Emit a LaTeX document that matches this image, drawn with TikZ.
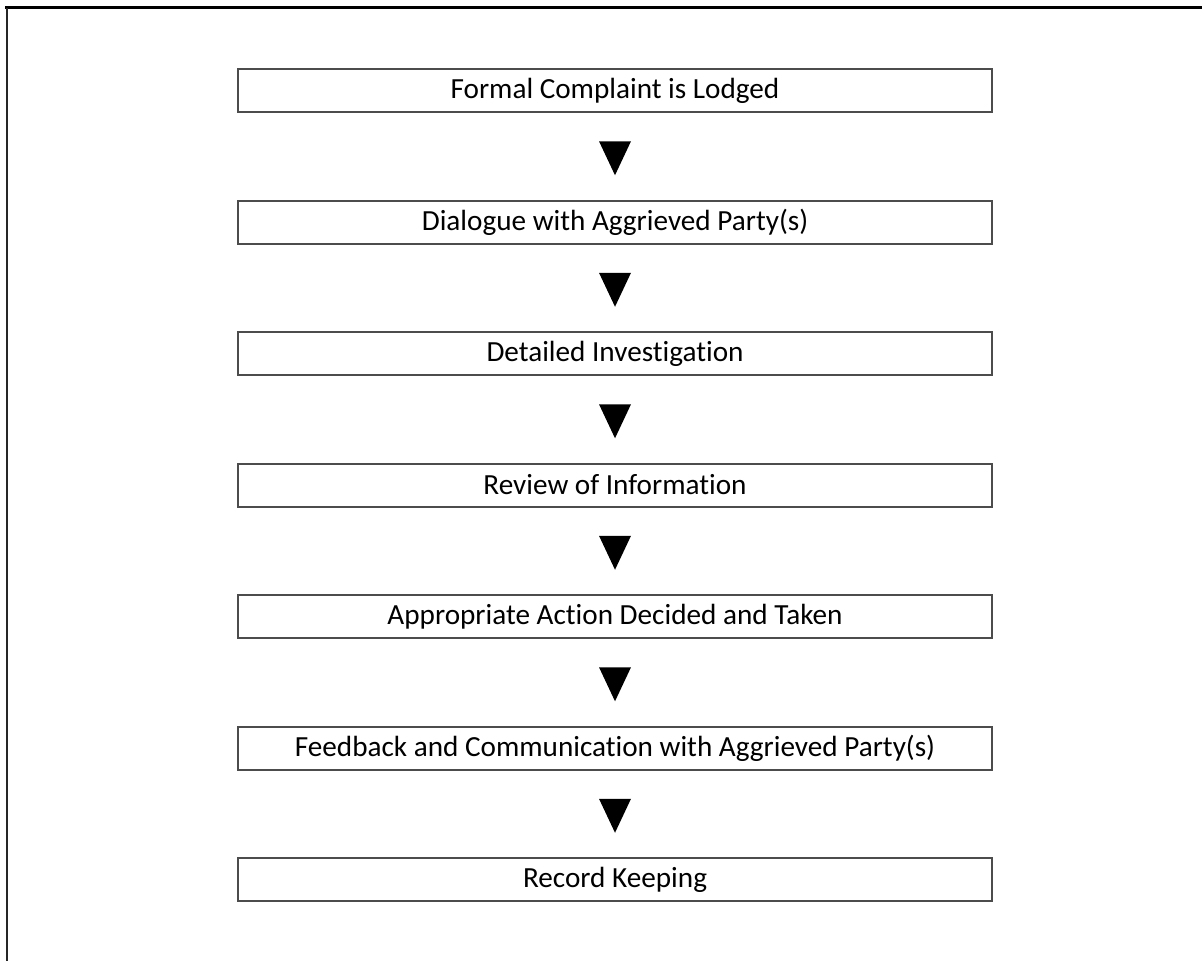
\documentclass[tikz,border=0pt]{standalone}
\usepackage{fontspec}
\setmainfont[Ligatures={NoCommon,NoRare}]{Carlito}
\usetikzlibrary{calc}
\newlength{\du}
\setlength{\du}{0.5pt}
\tikzset{
  stage/.style={draw=black!70, line width=2\du, fill=white, minimum width=754\du,
    minimum height=43\du, inner sep=0pt, font=\fontsize{14.6}{16}\selectfont},
  pointer/.style={fill=black}
}

\begin{document}
\begin{tikzpicture}[yscale=-1]
\useasboundingbox (0,0) rectangle (1202\du,963\du);
% frame, only top and left show
\draw[line width=3\du] (5\du,8\du)--(1202\du,8\du);
\draw[line width=2\du, black!85] (7\du,8\du)--(7\du,961\du);
% stages
\node[stage] (s1) at (615\du,90.5\du) {Formal Complaint is Lodged};
\node[stage] (s2) at (615\du,222\du) {Dialogue with Aggrieved Party(s)};
\node[stage] (s3) at (615\du,353.5\du) {Detailed Investigation};
\node[stage] (s4) at (615\du,485\du) {Review of Information};
\node[stage] (s5) at (615\du,616.5\du) {Appropriate Action Decided and Taken};
\node[stage] (s6) at (615\du,748\du) {Feedback and Communication with Aggrieved Party(s)};
\node[stage] (s7) at (615\du,879.5\du) {Record Keeping};
% pointers between stages
\foreach \a/\b in {s1/s2,s2/s3,s3/s4,s4/s5,s5/s6,s6/s7}
  \fill[pointer] ($(\a.south)!0.5!(\b.north)$) ++(-16\du,-15\du) -- ++(32\du,0) -- ++(-16\du,34\du) -- cycle;
\end{tikzpicture}
\end{document}
